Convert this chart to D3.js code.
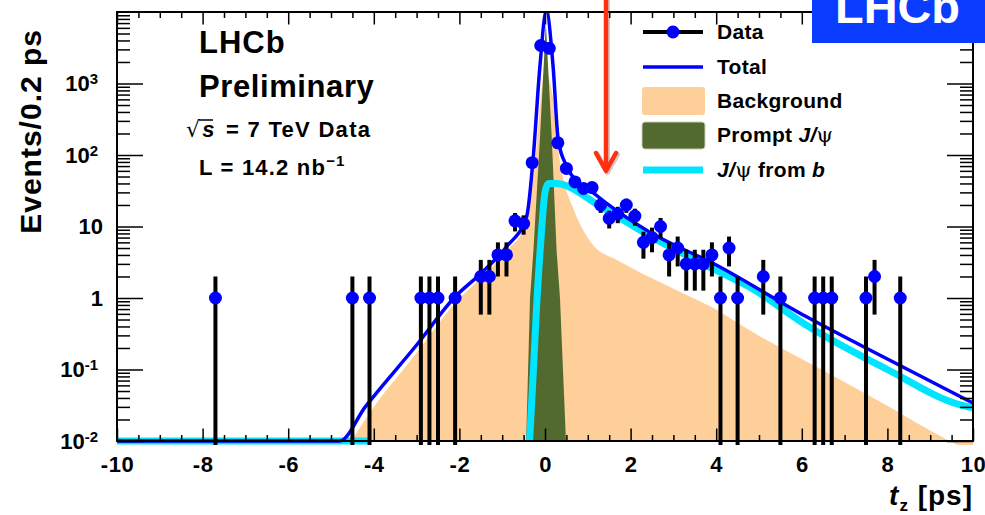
<!DOCTYPE html>
<html>
<head>
<meta charset="utf-8">
<script src="https://cdn.jsdelivr.net/npm/d3@7"></script>
<style>
body { margin: 0; background: #fff; }
svg text { font-family: "Liberation Sans", Arial, Helvetica, sans-serif; font-weight: bold; fill: #000; }
</style>
</head>
<body>
<script>
// data: counts per 0.2 ps bin, bin centres in ps
let dataT = [-7.7, -4.5, -4.1, -2.9, -2.7, -2.5, -2.1, -1.5, -1.3, -1.1, -0.9, -0.7, -0.5, -0.3, -0.1,
    0.1, 0.3, 0.5, 0.7, 0.9, 1.1, 1.3, 1.5, 1.7, 1.9, 2.1, 2.3, 2.5, 2.7, 2.9, 3.1, 3.3, 3.5, 3.7, 3.9,
    4.1, 4.3, 4.5, 5.1, 5.5, 6.3, 6.5, 6.7, 7.5, 7.7, 8.3]
let dataN = [1, 1, 1, 1, 1, 1, 1, 2, 2, 4, 4, 12, 11, 78, 3400,
    3100, 148, 65, 42, 34, 35, 20, 13, 15, 20, 14, 6, 7, 10, 4, 5, 3, 3, 3, 4,
    1, 5, 1, 2, 1, 1, 1, 1, 1, 2, 1]

// fit components (0.01 = bottom of the frame)
let totalT = [-10, -4.8, -4.2, -3.0, -2.1, -1.5, -0.9, -0.43, -0.28, -0.12, 0.03, 0.19, 0.31, 0.51, 0.74, 1.05, 1.44, 2.45, 4.0, 6.1, 8.0, 9.7, 10]
let totalV = [0.01, 0.01, 0.03, 0.22, 1.04, 2.2, 5.2, 13.7, 85, 1700, 10500, 1700, 160, 69, 42, 32, 21, 8.3, 2.9, 0.55, 0.14, 0.042, 0.034]

let bkgT = [-4.52, -4.07, -3.0, -2.1, -1.5, -0.9, -0.45, -0.25, 0.0, 0.19, 0.28, 0.42, 0.65, 0.89, 1.12, 1.68, 2.45, 3.22, 4.02, 4.49, 6.9, 8.0, 9.0, 9.45, 10]
let bkgV = [0.01, 0.026, 0.17, 0.85, 1.9, 4.5, 11, 60, 1500, 600, 160, 49, 18.6, 8.9, 5.5, 3.4, 1.95, 1.17, 0.68, 0.45, 0.072, 0.031, 0.014, 0.01, 0.007]

let promptT = [-0.44, -0.35, -0.27, -0.12, 0.02, 0.16, 0.27, 0.35, 0.49]
let promptV = [0.01, 1, 4.7, 162, 7000, 162, 4.7, 1, 0.01]

let fromBT = [-10, -4.1, -4.0, -0.36, -0.27, -0.19, -0.1, 0.0, 0.08, 0.25, 1.3, 2.45, 3.6, 4.8, 6.1, 8.0, 9.7, 10]
let fromBV = [0.01, 0.01, null, 0.01, 0.1, 0.9, 6, 30, 40, 40, 19, 7.4, 3.2, 1.4, 0.42, 0.1, 0.032, 0.029]

let xTicks = [-10, -8, -6, -4, -2, 0, 2, 4, 6, 8, 10]
let yTicks = [0.01, 0.1, 1, 10, 100, 1000, 10000]
let legendNames = ['Data', 'Total', 'Background', 'Prompt', 'fromB']

const zip = (ts, vs) => ts.map((t, i) => ({ t: t, v: vs[i] }))

var width = 985, height = 515
var svg = d3.select('body').append('svg')
    .attr('width', width)
    .attr('height', height)

var x = d3.scaleLinear().domain([-10, 10]).range([117, 973])
var y = d3.scaleLog().domain([0.01, 10000]).range([441, 12])

svg.append('clipPath').attr('id', 'frame')
    .append('rect').attr('x', 117).attr('y', 12).attr('width', 856).attr('height', 433)

var plot = svg.append('g').attr('clip-path', 'url(#frame)')

var area = d3.area()
    .x(d => x(d.t)).y0(y(0.01)).y1(d => y(d.v))
var line = d3.line()
    .defined(d => d.v != null)
    .x(d => x(d.t)).y(d => y(d.v))

// background
plot.append('path')
    .datum(zip(bkgT, bkgV))
    .attr('d', area.curve(d3.curveMonotoneX))
    .attr('fill', '#fecf99')

// prompt J/psi
plot.append('path')
    .datum(zip(promptT, promptV))
    .attr('d', area.curve(d3.curveLinear))
    .attr('fill', '#536a2f')

// J/psi from b
plot.append('path')
    .datum(zip(fromBT, fromBV))
    .attr('d', line.curve(d3.curveMonotoneX))
    .attr('fill', 'none')
    .attr('stroke', '#00e5ff')
    .attr('stroke-width', 7)

// total
plot.append('path')
    .datum(zip(totalT, totalV))
    .attr('d', line.curve(d3.curveMonotoneX))
    .attr('fill', 'none')
    .attr('stroke', '#0000ff')
    .attr('stroke-width', 3.5)

// data with sqrt(N) errors
var pts = zip(dataT, dataN)
plot.selectAll('.err')
    .data(pts)
    .enter()
    .append('line')
    .attr('class', 'err')
    .attr('x1', d => x(d.t)).attr('x2', d => x(d.t))
    .attr('y1', d => y(d.v + Math.sqrt(d.v)))
    .attr('y2', d => y(Math.max(d.v - Math.sqrt(d.v), 0.005)))
    .attr('stroke', '#000')
    .attr('stroke-width', 4)
plot.selectAll('.pt')
    .data(pts)
    .enter()
    .append('circle')
    .attr('class', 'pt')
    .attr('cx', d => x(d.t))
    .attr('cy', d => y(d.v))
    .attr('r', 6.5)
    .attr('fill', '#0000ff')

// axes, ROOT style: ticks inside on all four sides
var minorX = d3.range(-10, 10.01, 0.5).filter(v => Math.abs(v % 2) > 0.01)
var minorY = []
for (let e = -2; e < 4; e++) for (let k = 2; k < 10; k++) minorY.push(k * Math.pow(10, e))

function clean(g) {
    g.select('.domain').remove()
    g.selectAll('.tick line').attr('stroke', '#000').attr('stroke-width', 1.5)
}

svg.append('g').attr('transform', 'translate(0,441)')
    .call(d3.axisBottom(x).tickValues(xTicks).tickSize(-12.5).tickPadding(15).tickFormat(d => String(d)))
    .call(clean)
    .selectAll('text').attr('font-size', 22).attr('letter-spacing', 0.5).attr('fill', '#000')
svg.append('g').attr('transform', 'translate(0,441)')
    .call(d3.axisBottom(x).tickValues(minorX).tickSize(-6).tickFormat(''))
    .call(clean)
svg.append('g').attr('transform', 'translate(0,12)')
    .call(d3.axisTop(x).tickValues(xTicks).tickSize(-12.5).tickFormat(''))
    .call(clean)
svg.append('g').attr('transform', 'translate(0,12)')
    .call(d3.axisTop(x).tickValues(minorX).tickSize(-6).tickFormat(''))
    .call(clean)

var yAxisG = svg.append('g').attr('transform', 'translate(117,0)')
    .call(d3.axisLeft(y).tickValues(yTicks.slice(0, 6)).tickSize(-26).tickPadding(14).tickFormat(''))
    .call(clean)
yAxisG.selectAll('.tick text').each(function (d) {
    let e = Math.round(Math.log10(d))
    let t = d3.select(this).attr('font-size', 22).attr('fill', '#000')
    if (e === 0) t.text('1')
    else if (e === 1) t.text('10')
    else {
        t.attr('dx', '-5')
        t.append('tspan').text('10')
        t.append('tspan').attr('dy', '-0.45em').attr('font-size', 15).text(e)
    }
})
svg.append('g').attr('transform', 'translate(117,0)')
    .call(d3.axisLeft(y).tickValues(minorY).tickSize(-13).tickFormat(''))
    .call(clean)
svg.append('g').attr('transform', 'translate(973,0)')
    .call(d3.axisRight(y).tickValues(yTicks).tickSize(-26).tickFormat(''))
    .call(clean)
svg.append('g').attr('transform', 'translate(973,0)')
    .call(d3.axisRight(y).tickValues(minorY).tickSize(-13).tickFormat(''))
    .call(clean)

svg.append('rect')
    .attr('x', 117).attr('y', 12).attr('width', 856).attr('height', 429)
    .attr('fill', 'none').attr('stroke', '#000').attr('stroke-width', 2)

// axis titles
var xt = svg.append('text').attr('x', 973).attr('y', 505).attr('text-anchor', 'end')
    .attr('font-size', 28).attr('letter-spacing', 1)
xt.append('tspan').attr('font-style', 'italic').text('t')
xt.append('tspan').attr('font-size', 17).attr('dy', 6).text('z')
xt.append('tspan').attr('dy', -6).text(' [ps]')

svg.append('text')
    .attr('transform', 'translate(41,29) rotate(-90)')
    .attr('text-anchor', 'end')
    .attr('font-size', 30)
    .attr('letter-spacing', 1)
    .text('Events/0.2 ps')

// labels
svg.append('text').attr('x', 199).attr('y', 53).attr('font-size', 31).attr('letter-spacing', 1).text('LHCb')
svg.append('text').attr('x', 199).attr('y', 97).attr('font-size', 31).attr('letter-spacing', 0.6).text('Preliminary')
var rs = svg.append('text').attr('x', 186).attr('y', 137).attr('font-size', 22).attr('letter-spacing', 1.3)
rs.append('tspan').attr('font-weight', 'normal').attr('font-family', 'DejaVu Sans').text('\u221A')
rs.append('tspan').attr('font-style', 'italic').attr('dx', 1).text('s')
rs.append('tspan').attr('dx', 10).text('= 7 TeV Data')
svg.append('line').attr('x1', 199).attr('x2', 213).attr('y1', 120).attr('y2', 120)
    .attr('stroke', '#000').attr('stroke-width', 1.5)
var lum = svg.append('text').attr('x', 199).attr('y', 175).attr('font-size', 22).attr('letter-spacing', 1.2)
lum.append('tspan').text('L = 14.2 nb')
lum.append('tspan').attr('dy', -9).attr('font-size', 15).text('\u22121')

// legend
var leg = svg.append('g')
var rowY = [32, 67, 101, 135, 170]
legendNames.forEach(function (name, i) {
    let yy = rowY[i]
    if (name === 'Data') {
        leg.append('line').attr('x1', 643).attr('x2', 703).attr('y1', yy).attr('y2', yy).attr('stroke', '#000').attr('stroke-width', 4)
        leg.append('circle').attr('cx', 673).attr('cy', yy).attr('r', 6.5).attr('fill', '#0000ff')
    } else if (name === 'Total') {
        leg.append('line').attr('x1', 643).attr('x2', 703).attr('y1', yy).attr('y2', yy).attr('stroke', '#0000ff').attr('stroke-width', 3.5)
    } else if (name === 'Background') {
        leg.append('rect').attr('x', 642).attr('y', yy - 14).attr('width', 63).attr('height', 28).attr('rx', 3).attr('fill', '#fecf99')
    } else if (name === 'Prompt') {
        leg.append('rect').attr('x', 642).attr('y', yy - 13).attr('width', 63).attr('height', 27).attr('rx', 3).attr('fill', '#536a2f').attr('stroke', '#c9cdb8').attr('stroke-width', 1)
    } else {
        leg.append('line').attr('x1', 643).attr('x2', 703).attr('y1', yy).attr('y2', yy).attr('stroke', '#00e5ff').attr('stroke-width', 7)
    }
    let t = leg.append('text').attr('x', 717).attr('y', yy + 7).attr('font-size', 21).attr('letter-spacing', 0.3)
    if (name === 'Prompt') {
        t.append('tspan').text('Prompt ')
        t.append('tspan').attr('font-style', 'italic').text('J/')
        t.append('tspan').attr('font-family', 'DejaVu Serif').attr('font-weight', 'normal').text('\u03C8')
    } else if (name === 'fromB') {
        t.append('tspan').attr('font-style', 'italic').text('J/')
        t.append('tspan').attr('font-family', 'DejaVu Serif').attr('font-weight', 'normal').text('\u03C8')
        t.append('tspan').text(' from ')
        t.append('tspan').attr('font-style', 'italic').text('b')
    } else {
        t.text(name)
    }
})

// LHCb logo box, cut by the top edge as in the original
svg.append('rect').attr('x', 812).attr('y', 0).attr('width', 173).attr('height', 43).attr('fill', '#0a3cff')
svg.append('text').attr('x', 835).attr('y', 23).attr('font-size', 46)
    .attr('textLength', 125).attr('lengthAdjust', 'spacingAndGlyphs')
    .attr('font-family', 'DejaVu Sans').style('fill', '#fff').text('LHCb')

// red arrow
var arrow = 'M606,0 L606,170 M596,153 L606,171 L616,153'
svg.append('path').attr('d', arrow).attr('transform', 'translate(1.5,1.5)')
    .attr('fill', 'none').attr('stroke', 'rgba(0,0,0,0.2)').attr('stroke-width', 5).attr('stroke-linecap', 'round').attr('stroke-linejoin', 'round')
svg.append('path').attr('d', arrow)
    .attr('fill', 'none').attr('stroke', '#ff3010').attr('stroke-width', 4.5).attr('stroke-linecap', 'round').attr('stroke-linejoin', 'round')
</script>
</body>
</html>
